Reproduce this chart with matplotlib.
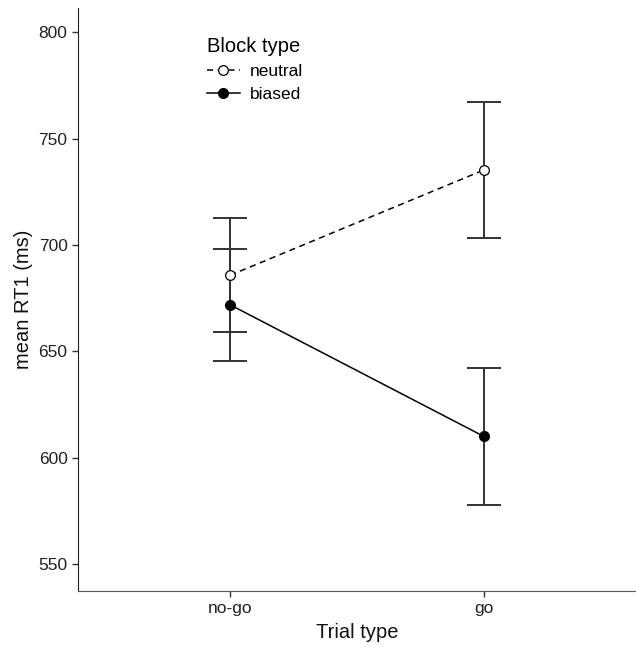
import matplotlib
matplotlib.use("Agg")
import matplotlib.pyplot as plt
import numpy as np

plt.rcParams['font.family'] = ['Liberation Sans', 'DejaVu Sans']

trial_types = ['no-go', 'go']
neutral_mean = [685.8, 735.3]
neutral_err = [26.8, 32.2]
biased_mean = [671.9, 610.0]
biased_err = [26.4, 32.1]

fig = plt.figure(figsize=(6.36, 6.47), dpi=100)
ax = fig.add_axes([0.1226, 0.0866, 0.8774, 0.901])

x = np.arange(1, len(trial_types) + 1)

# error bars first so lines/points sit on top
ax.errorbar(x, neutral_mean, yerr=neutral_err, fmt='none', ecolor='#333333',
            elinewidth=1.4, capsize=12, capthick=1.4, zorder=2)
ax.errorbar(x, biased_mean, yerr=biased_err, fmt='none', ecolor='#333333',
            elinewidth=1.4, capsize=12, capthick=1.4, zorder=2)

ax.plot(x, neutral_mean, linestyle=(0, (4, 3)), color='black', lw=1.1,
        marker='o', markersize=7, markerfacecolor='white',
        markeredgecolor='black', markeredgewidth=0.9, label='neutral', zorder=3)
ax.plot(x, biased_mean, linestyle='-', color='black', lw=1.1,
        marker='o', markersize=7, markerfacecolor='black',
        markeredgecolor='black', label='biased', zorder=3)

ax.set_xlim(0.4, 2.6)
ax.set_ylim(537.3, 811.5)
ax.set_xticks(x)
ax.set_xticklabels(trial_types)
ax.set_yticks([550, 600, 650, 700, 750, 800])

ax.spines['top'].set_visible(False)
ax.spines['right'].set_visible(False)
ax.spines['left'].set_color('#222222')
ax.spines['bottom'].set_color('#555555')
ax.tick_params(axis='both', length=4, width=1, colors='#333333',
               labelsize=12.5, labelcolor='#222222')

ax.set_ylabel('mean RT1 (ms)', fontsize=14.5, color='#111111', labelpad=4)
ax.set_xlabel('Trial type', fontsize=14.5, color='#111111', labelpad=5)

leg = ax.legend(title='Block type', loc='upper left',
                bbox_to_anchor=(0.192, 0.988), frameon=False, fontsize=12.5,
                title_fontsize=14.5, handlelength=1.9, handletextpad=0.6,
                labelspacing=0.45, borderpad=0.75, borderaxespad=0.5)
leg._legend_box.align = 'left'

fig.savefig('out.png', dpi=100)
